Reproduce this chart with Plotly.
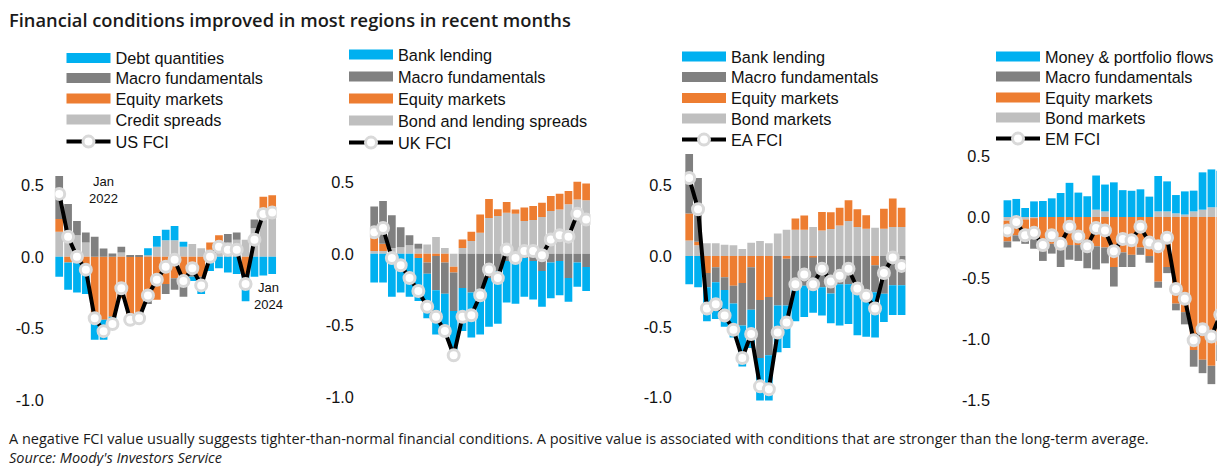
import plotly.graph_objects as go

mnames = ["Jan", "Feb", "Mar", "Apr", "May", "Jun", "Jul", "Aug", "Sep", "Oct", "Nov", "Dec"]
months = [f"{m} {y}" for y in (2022, 2023) for m in mnames] + ["Jan 2024"]

# ---- US ----
us_debt = [-0.14, -0.19, -0.21, -0.20, -0.14, -0.14, -0.07, 0, -0.05, 0, 0.05, 0.075, 0.075, 0.10, 0.035,
           -0.03, -0.06, -0.10, -0.08, -0.11, -0.12, -0.19, -0.14, -0.13, -0.12]
us_macro = [0.30, 0.22, 0.10, 0.07, 0.14, 0.058, 0.023, 0.04, 0.01, 0.01, -0.03, 0, -0.07, -0.08, -0.10,
            -0.04, -0.06, 0, 0, 0.06, 0.05, 0, 0.06, 0, 0]
us_equity = [0.09, -0.04, -0.04, -0.06, -0.44, -0.44, -0.42, -0.29, -0.40, -0.43, -0.30, -0.30, -0.19, -0.15,
             -0.18, -0.10, -0.14, 0.05, 0.04, 0, 0, -0.12, 0, 0.08, 0.09]
us_credit = [0.175, 0.15, 0.15, 0.10, 0, 0, 0, 0.03, 0, 0, 0.01, 0.07, 0.115, 0.115, 0.07, 0.09, 0.06, 0.05,
             0.11, 0.10, 0.12, 0.12, 0.20, 0.34, 0.34]
us_fci = [0.44, 0.14, 0.0, -0.09, -0.43, -0.52, -0.47, -0.22, -0.44, -0.43, -0.27, -0.16, -0.07, -0.02, -0.17,
          -0.08, -0.20, 0.0, 0.07, 0.05, 0.05, -0.19, 0.12, 0.30, 0.31]

# ---- UK ----
uk_bank = [-0.20, -0.20, -0.30, -0.27, -0.30, -0.30, -0.31, -0.31, -0.285, -0.31, -0.30, -0.315, -0.315, -0.34,
           -0.37, -0.29, -0.31, -0.27, -0.27, -0.25, -0.25, -0.24, -0.165, -0.17, -0.168]
uk_macro = [0.22, 0.30, 0.23, 0.14, 0.07, 0.035, -0.08, -0.24, -0.22, -0.27, -0.24, -0.27, -0.25, -0.17, -0.12,
            -0.05, -0.04, -0.03, -0.05, -0.12, -0.06, -0.05, -0.17, -0.06, -0.093]
uk_equity = [0.09, 0.05, 0, 0, 0, -0.03, -0.06, -0.015, -0.06, -0.04, 0.06, 0.065, 0.128, 0.133, 0.047, 0.075,
             0.03, 0.093, 0.098, 0.10, 0.105, 0.11, 0.093, 0.124, 0.117]
uk_spreads = [0.02, 0.02, 0.04, 0.045, 0.06, 0.035, 0.065, 0.117, 0.04, -0.09, 0.04, 0.09, 0.147, 0.25, 0.264,
              0.287, 0.28, 0.23, 0.236, 0.257, 0.30, 0.31, 0.346, 0.38, 0.374]
uk_fci = [0.15, 0.18, -0.03, -0.08, -0.17, -0.26, -0.37, -0.44, -0.54, -0.71, -0.44, -0.43, -0.29, -0.11, -0.17,
          0.03, -0.03, 0.02, 0.02, -0.01, 0.10, 0.13, 0.12, 0.28, 0.24]

# ---- EA ----
ea_bank = [-0.20, -0.22, -0.24, -0.26, -0.26, -0.24, -0.29, -0.27, -0.30, -0.32, -0.33, -0.30, -0.29, -0.22,
           -0.19, -0.20, -0.21, -0.29, -0.28, -0.35, -0.33, -0.32, -0.20, -0.21, -0.21]
ea_macro = [0.42, 0.45, -0.10, -0.105, -0.09, -0.125, -0.30, -0.30, -0.41, -0.41, -0.35, -0.33, -0.17, -0.21,
            -0.20, -0.22, -0.265, -0.20, -0.20, -0.21, -0.24, -0.19, -0.266, -0.207, -0.207]
ea_equity = [0.19, 0.025, -0.12, -0.08, -0.15, -0.21, -0.19, -0.08, -0.31, -0.29, 0, -0.02, 0.078, 0.10, -0.01,
             0.13, 0.118, 0.125, 0.146, 0.125, 0.094, -0.066, 0.14, 0.20, 0.136]
ea_bond = [0.11, 0.075, 0.09, 0.09, 0.08, 0.075, 0.05, 0.094, 0.106, 0.09, 0.158, 0.186, 0.186, 0.186, 0.205,
           0.18, 0.19, 0.216, 0.247, 0.205, 0.193, 0.20, 0.193, 0.205, 0.205]
ea_fci = [0.55, 0.33, -0.37, -0.34, -0.42, -0.52, -0.72, -0.55, -0.92, -0.94, -0.54, -0.47, -0.20, -0.13, -0.20,
          -0.09, -0.18, -0.14, -0.09, -0.23, -0.28, -0.37, -0.12, -0.01, -0.07]

# ---- EM ----
em_flows = [0.137, 0.148, 0.074, 0.128, 0.131, 0.153, 0.197, 0.28, 0.20, 0.17, 0.28, 0.22, 0.284, 0.22, 0.215,
            0.227, 0.167, 0.29, 0.246, 0.15, 0.19, 0.17, 0.306, 0.31, 0.30]
em_macro = [-0.05, -0.05, -0.03, -0.08, -0.08, -0.08, -0.14, -0.12, -0.13, -0.14, -0.19, -0.13, -0.16, -0.12,
            -0.10, -0.06, -0.055, -0.05, -0.05, -0.055, -0.10, -0.137, -0.11, -0.15, -0.13]
em_equity = [-0.17, -0.14, -0.17, -0.17, -0.28, -0.22, -0.27, -0.23, -0.23, -0.28, -0.24, -0.25, -0.41, -0.29,
             -0.31, -0.25, -0.32, -0.53, -0.41, -0.71, -0.78, -1.09, -1.17, -1.22, -1.05]
em_bond = [-0.03, -0.01, -0.02, -0.01, 0, 0, 0, 0, 0, 0, 0.06, 0.046, 0, 0, 0, 0, 0, 0.046, 0.046, 0.03, 0.02,
           0.046, 0.06, 0.08, 0.08]
em_fci = [-0.11, -0.04, -0.15, -0.13, -0.23, -0.15, -0.22, -0.08, -0.16, -0.24, -0.09, -0.11, -0.28, -0.18,
          -0.19, -0.08, -0.21, -0.24, -0.17, -0.59, -0.67, -1.01, -0.92, -0.98, -0.80]

tick_vals_a = [0.5, 0.0, -0.5, -1.0]
tick_text_a = ["0.5", "0.0", "-0.5", "-1.0"]
tick_vals_b = [0.5, 0.0, -0.5, -1.0, -1.5]
tick_text_b = ["0.5", "0.0", "-0.5", "-1.0", "-1.5"]

BLUE = "#00B0F0"
DGRAY = "#808080"
ORANGE = "#ED7D31"
LGRAY = "#BFBFBF"

W, H = 1217, 466
FONT = "Liberation Sans, Arial, sans-serif"

panels = [
    dict(ax="", names=["Debt quantities", "Macro fundamentals", "Equity markets", "Credit spreads", "US FCI"],
         blue=us_debt, dg=us_macro, og=us_equity, lg=us_credit, fci=us_fci,
         legx=61.5, legy=[58.5, 78.5, 99, 120, 142]),
    dict(ax="2", names=["Bank lending", "Macro fundamentals", "Equity markets", "Bond and lending spreads", "UK FCI"],
         blue=uk_bank, dg=uk_macro, og=uk_equity, lg=uk_spreads, fci=uk_fci,
         legx=344, legy=[55, 77, 99, 121, 143]),
    dict(ax="3", names=["Bank lending", "Macro fundamentals", "Equity markets", "Bond markets", "EA FCI"],
         blue=ea_bank, dg=ea_macro, og=ea_equity, lg=ea_bond, fci=ea_fci,
         legx=677, legy=[57, 77.5, 98.5, 119, 140]),
    dict(ax="4", names=["Money & portfolio flows", "Macro fundamentals", "Equity markets", "Bond markets", "EM FCI"],
         blue=em_flows, dg=em_macro, og=em_equity, lg=em_bond, fci=em_fci,
         legx=991, legy=[57, 77, 98, 118, 139]),
]

def fx(px):
    return px / W

def fy(py):
    return 1 - py / H

fig = go.Figure()
legends = {}
for k, p in enumerate(panels):
    xa, ya = "x" + p["ax"], "y" + p["ax"]
    ids = []
    for r in range(5):
        n = k * 5 + r + 1
        lid = "legend" if n == 1 else f"legend{n}"
        ids.append(lid)
        legends[lid] = dict(x=fx(p["legx"]), y=fy(p["legy"][r]), xanchor="left", yanchor="middle",
                            bgcolor="rgba(0,0,0,0)", borderwidth=0,
                            font=dict(family=FONT, size=16.3, color="#111111"), itemwidth=44,
                            tracegroupgap=0, itemclick=False, itemdoubleclick=False)
    # legend swatches
    for r, (nm, col) in enumerate(zip(p["names"][:4], [BLUE, DGRAY, ORANGE, LGRAY])):
        fig.add_trace(go.Scatter(x=[None], y=[None], mode="lines", name=nm, legend=ids[r],
                                 line=dict(color=col, width=11), xaxis=xa, yaxis=ya, hoverinfo="skip"))
    # stacked bars (stacking order from zero outward)
    for vals, col in [(p["lg"], LGRAY), (p["og"], ORANGE), (p["dg"], DGRAY), (p["blue"], BLUE)]:
        fig.add_trace(go.Bar(x=months, y=vals, marker=dict(color=col, line=dict(width=0)),
                             showlegend=False, xaxis=xa, yaxis=ya))
    fig.add_trace(go.Scatter(x=months, y=p["fci"], mode="lines+markers", name=p["names"][4], legend=ids[4],
                             line=dict(color="black", width=4),
                             marker=dict(size=11, color="white", line=dict(color="#D9D9D9", width=3)),
                             xaxis=xa, yaxis=ya))

ytop, ybot = 145, 412
ydom = [fy(ybot), fy(ytop)]

# per panel: (first bar center px, spacing px, zero px, px per unit, label right edge px)
geo = {
    "": (59.2, 8.875, 256.8, 143.0, 43),
    "2": (374.2, 8.83, 253.8, 143.0, 353),
    "3": (689.2, 8.85, 256.0, 141.7, 671),
    "4": (1007.4, 8.87, 217.0, 122.0, 989),
}
layout = {}
for key, (c0, sp, z, u, lab) in geo.items():
    left = c0 - 0.5 * sp
    if key == "4":
        right = W
    else:
        right = c0 + 24.5 * sp
    xr = [-0.5, (right - c0) / sp]
    yr = [-(ybot - z) / u, (z - ytop) / u]
    tv = tick_vals_b if key == "4" else tick_vals_a
    tt = tick_text_b if key == "4" else tick_text_a
    layout["xaxis" + key] = dict(domain=[fx(left), fx(right)], range=xr, type="category",
                                 showticklabels=False, showgrid=False, zeroline=False, showline=False,
                                 ticks="", anchor="y" + key)
    layout["yaxis" + key] = dict(domain=ydom, range=yr, tickvals=tv, ticktext=tt, showgrid=False,
                                 zeroline=False, showline=False, ticks="", anchor="x" + key,
                                 ticklabelstandoff=int(round(left - lab - 2)),
                                 tickfont=dict(family=FONT, size=16.3, color="#111111"))
fig.update_layout(**layout)
fig.update_layout(**legends)

annotations = [
    dict(text="Financial conditions improved in most regions in recent months", xref="paper", yref="paper",
         x=fx(7), y=fy(20), xanchor="left", yanchor="middle", showarrow=False,
         font=dict(family="Open Sans, sans-serif", size=18.3, color="#1a1a1a", weight=600)),
    dict(text="A negative FCI value usually suggests tighter-than-normal financial conditions. A positive value is associated with conditions that are stronger than the long-term average.",
         xref="paper", yref="paper", x=fx(7), y=fy(438), xanchor="left", yanchor="middle", showarrow=False,
         font=dict(family="Open Sans, sans-serif", size=14.5, color="#1a1a1a")),
    dict(text="<i>Source: Moody's Investors Service</i>", xref="paper", yref="paper", x=fx(7), y=fy(457),
         xanchor="left", yanchor="middle", showarrow=False,
         font=dict(family="Open Sans, sans-serif", size=14.5, color="#1a1a1a")),
    dict(text="Jan<br>2022", xref="x", yref="y", x=months[0], y=us_fci[0], xshift=44, yshift=4,
         showarrow=False, align="center", font=dict(family=FONT, size=13, color="#111111")),
    dict(text="Jan<br>2024", xref="x", yref="y", x=months[21], y=us_fci[21], xshift=23, yshift=-12,
         showarrow=False, align="center", font=dict(family=FONT, size=13, color="#111111")),
]

fig.update_layout(width=W, height=H, margin=dict(l=0, r=0, t=0, b=0, autoexpand=False),
                  paper_bgcolor="white", plot_bgcolor="white", barmode="relative", bargap=0.13,
                  annotations=annotations, hovermode=False, showlegend=True)

fig.write_html("out.html", config={"displayModeBar": False},
               post_script="document.body.style.margin='0';document.body.style.padding='0';document.body.style.overflow='hidden';")
